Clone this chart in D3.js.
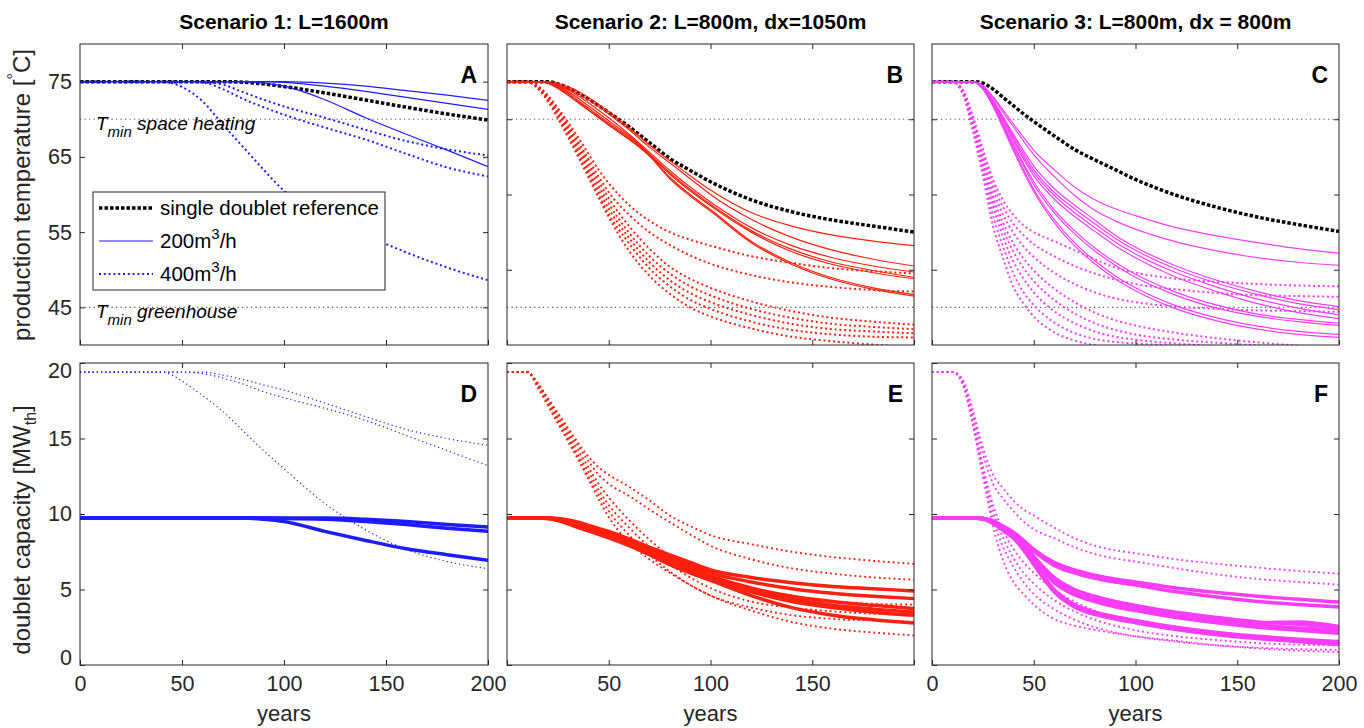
<!DOCTYPE html>
<html>
<head>
<meta charset="utf-8">
<script src="https://d3js.org/d3.v7.min.js"></script>
<style>
body { margin: 0; background: #fff; }
svg text { font-family: "Liberation Sans", Arial, sans-serif; fill: #262626; }
</style>
</head>
<body>
<svg id="chart" width="1364" height="728"></svg>
<script>
// sample years shared by every series
const years = [0,5,10,15,20,25,30,35,40,45,50,60,70,80,90,100,120,140,160,180,200];

// ---- Scenario 1 : production temperature
const refA = [75,75,75,75,75,75,75,75,75,75,75,75,75,74.92,74.7,74.35,73.5,72.55,71.6,70.7,69.9];
const tempA200 = [
  [75,75,75,75,75,75,75,75,75,75,75,75,75,75,75,75,74.8,74.4,73.8,73.2,72.5],
  [75,75,75,75,75,75,75,75,75,75,75,75,75,75,75,74.9,74.4,73.7,72.9,72.1,71.3],
  [75,75,75,75,75,75,75,75,75,75,75,75,75,75,74.8,74.4,72.6,70.2,68.0,65.9,63.7]
];
const tempA400 = [
  [75,75,75,75,75,75,75,75,75,74.8,74.3,72.4,69.3,66.3,63.3,60.5,57.0,54.6,52.3,50.3,48.6],
  [75,75,75,75,75,75,75,75,75,75,75,75,74.6,73.6,72.6,71.7,70.2,68.6,67.1,66.0,65.2],
  [75,75,75,75,75,75,75,75,75,75,75,74.9,74.0,72.7,71.6,70.6,68.9,67.3,65.4,63.6,62.4]
];
// ---- Scenario 1 : capacity
const capA200 = [
  [9.73,9.73,9.73,9.73,9.73,9.73,9.73,9.73,9.73,9.73,9.73,9.73,9.73,9.73,9.73,9.73,9.73,9.65,9.5,9.3,9.14],
  [9.73,9.73,9.73,9.73,9.73,9.73,9.73,9.73,9.73,9.73,9.73,9.73,9.73,9.73,9.73,9.7,9.65,9.5,9.3,9.05,8.85],
  [9.73,9.73,9.73,9.73,9.73,9.73,9.73,9.73,9.73,9.73,9.73,9.73,9.73,9.73,9.65,9.5,8.85,8.25,7.7,7.3,6.93]
];
const capA400 = [
  [19.4,19.4,19.4,19.4,19.4,19.4,19.4,19.4,19.4,19.2,18.8,17.85,16.8,15.5,14.2,13.0,10.7,8.95,7.65,6.85,6.38],
  [19.4,19.4,19.4,19.4,19.4,19.4,19.4,19.4,19.4,19.4,19.4,19.4,19.2,18.9,18.55,18.2,17.35,16.45,15.6,15.0,14.55],
  [19.4,19.4,19.4,19.4,19.4,19.4,19.4,19.4,19.4,19.4,19.4,19.3,19.0,18.6,18.1,17.7,17.0,16.2,15.2,14.2,13.2]
];

// ---- Scenario 2 : production temperature
const refB = [75,75,75,75,75,74.7,74.2,73.5,72.7,71.8,70.9,69.0,66.9,64.8,63.2,61.7,59.3,57.7,56.6,55.8,55.0];
const tempB200 = [
  [75,75,75,75,75,74.8,74.3,73.7,72.9,72.0,71.0,68.9,66.6,64.5,62.5,60.6,57.6,55.8,54.6,53.8,53.2],
  [75,75,75,75,74.9,74.6,74.1,73.4,72.6,71.7,70.7,68.6,66.3,64.2,62.1,60.0,56.7,54.3,52.6,51.4,50.5],
  [75,75,75,75,74.9,74.5,73.9,73.1,72.2,71.2,70.2,68.0,65.6,63.2,61.0,59.0,55.6,53.2,51.6,50.5,49.7],
  [75,75,75,75,74.9,74.4,73.7,72.8,71.8,70.8,69.8,67.8,65.4,62.9,60.7,58.7,55.2,52.7,51.0,49.9,49.0],
  [75,75,75,75,74.8,74.3,73.5,72.5,71.5,70.5,69.5,67.6,65.3,62.7,60.5,58.5,55.0,52.4,50.7,49.6,48.8],
  [75,75,75,75,74.8,74.2,73.3,72.3,71.3,70.3,69.3,67.4,65.2,62.3,60.0,58.0,53.8,50.9,48.9,47.6,46.7],
  [75,75,75,75,74.8,74.1,73.2,72.2,71.2,70.2,69.2,67.3,65.1,62.1,59.8,57.8,53.6,50.7,48.7,47.4,46.5]
];
const tempB400 = [
  [75,75,75,74.5,73.2,71.5,69.6,67.6,65.4,63.3,61.5,58.6,56.5,55.0,54.0,53.2,51.8,50.9,50.2,49.8,49.5],
  [75,75,75,74.4,73.0,71.2,69.2,67.0,64.7,62.4,60.3,57.3,55.0,53.3,51.9,50.8,49.3,48.3,47.7,47.3,47.1],
  [75,75,75,74.3,72.9,71.0,68.9,66.6,64.2,61.8,59.5,55.8,52.8,50.4,48.8,47.6,45.8,44.5,43.6,43.1,42.7],
  [75,75,75,74.3,72.8,70.8,68.6,66.2,63.7,61.2,58.8,54.9,51.8,49.5,47.8,46.6,44.8,43.6,42.8,42.4,42.1],
  [75,75,75,74.2,72.7,70.6,68.3,65.8,63.2,60.6,58.1,54.2,51.0,48.6,46.9,45.7,44.0,42.8,42.1,41.8,41.55],
  [75,75,75,74.2,72.6,70.4,68.0,65.4,62.7,60.0,57.4,53.5,50.2,47.8,46.0,44.8,43.1,42.0,41.4,41.1,41.0],
  [75,75,75,74.1,72.4,70.1,67.6,65.0,62.3,59.6,57.0,52.5,49.2,46.8,45.0,43.8,42.2,41.1,40.5,40.05,39.7]
];
// ---- Scenario 2 : capacity
const capB200 = [
  [9.73,9.73,9.73,9.73,9.73,9.7,9.6,9.45,9.25,9.05,8.85,8.35,7.8,7.3,6.8,6.3,5.8,5.45,5.2,5.05,4.9],
  [9.73,9.73,9.73,9.73,9.73,9.68,9.55,9.38,9.18,8.96,8.74,8.25,7.7,7.15,6.6,6.1,5.5,5.05,4.75,4.55,4.4],
  [9.73,9.73,9.73,9.73,9.72,9.65,9.5,9.3,9.1,8.88,8.65,8.15,7.6,7.0,6.4,5.9,5.1,4.55,4.2,3.95,3.73],
  [9.73,9.73,9.73,9.73,9.72,9.62,9.45,9.23,9.02,8.8,8.57,8.07,7.5,6.9,6.3,5.8,4.95,4.35,3.95,3.7,3.5],
  [9.73,9.73,9.73,9.73,9.71,9.6,9.4,9.17,8.95,8.72,8.5,8.0,7.45,6.85,6.25,5.75,4.85,4.2,3.8,3.5,3.3],
  [9.73,9.73,9.73,9.73,9.7,9.56,9.35,9.1,8.88,8.65,8.42,7.9,7.3,6.65,6.1,5.6,4.6,3.8,3.3,3.0,2.78]
];
const capB400 = [
  [19.4,19.4,19.4,18.7,17.7,16.7,15.7,14.7,13.8,13.1,12.6,11.8,10.9,9.9,9.2,8.6,8.0,7.5,7.15,6.9,6.7],
  [19.4,19.4,19.4,18.65,17.6,16.6,15.5,14.5,13.5,12.6,12.0,11.2,10.3,9.45,8.65,7.9,7.0,6.4,6.05,5.8,5.65],
  [19.4,19.4,19.4,18.6,17.5,16.4,15.3,14.2,13.1,12.0,11.1,9.6,8.3,7.2,6.3,5.6,4.8,4.4,4.2,4.05,4.0],
  [19.4,19.4,19.4,18.55,17.4,16.3,15.1,13.9,12.8,11.6,10.6,9.1,7.8,6.7,5.8,5.1,4.2,3.8,3.55,3.4,3.3],
  [19.4,19.4,19.4,18.5,17.3,16.1,14.9,13.7,12.5,11.3,10.2,8.6,7.3,6.2,5.3,4.6,3.8,3.3,3.05,2.95,2.85],
  [19.4,19.4,19.4,18.4,17.2,16.0,14.8,13.6,12.3,11.0,9.8,8.1,7.0,6.1,5.3,4.6,3.6,2.85,2.4,2.15,1.96]
];

// ---- Scenario 3 : production temperature
const refC = [75,75,75,75,75,74.8,74.0,72.9,71.8,70.7,69.7,67.8,66.0,64.6,63.3,62.0,59.9,58.3,57.0,56.0,55.1];
const tempC200 = [
  [75,75,75,75,75,74.5,73.0,71.2,69.4,67.6,65.9,63.3,61.0,59.3,58.1,57.2,55.6,54.5,53.6,52.8,52.2],
  [75,75,75,75,75,74.4,72.8,70.9,69.0,67.1,65.3,62.4,59.9,57.9,56.5,55.4,53.7,52.5,51.6,51.0,50.6],
  [75,75,75,75,75,74.3,72.5,70.3,68.0,65.8,63.8,60.8,58.6,56.6,54.6,53.0,50.5,48.6,47.1,45.9,45.1],
  [75,75,75,75,75,74.3,72.4,70.1,67.7,65.4,63.3,60.3,58.1,56.1,54.2,52.6,50.1,48.2,46.7,45.5,44.7],
  [75,75,75,75,75,74.2,72.3,69.9,67.4,65.0,62.9,59.9,57.6,55.6,53.7,52.1,49.6,47.7,46.1,44.9,44.0],
  [75,75,75,75,75,74.2,72.2,69.7,67.1,64.7,62.5,59.4,57.1,55.1,53.2,51.6,49.0,47.1,45.5,44.3,43.5],
  [75,75,75,75,75,74.1,72.0,69.4,66.7,64.1,61.7,58.0,55.2,52.9,51.0,49.4,47.0,45.3,44.1,43.4,42.9],
  [75,75,75,75,75,74.1,71.9,69.2,66.4,63.8,61.3,57.6,54.8,52.5,50.6,49.0,46.6,44.9,43.8,43.1,42.6],
  [75,75,75,75,75,74.0,71.8,69.0,66.1,63.3,60.7,56.7,53.6,51.2,49.2,47.6,45.2,43.6,42.5,41.8,41.4],
  [75,75,75,75,75,74.0,71.7,68.8,65.8,63.0,60.4,56.3,53.2,50.8,48.8,47.2,44.8,43.2,42.1,41.4,41.0]
];
const tempC400 = [
  [75,75,75,74.0,70.5,66.0,62.0,59.2,57.3,55.9,55.0,53.8,52.6,51.4,50.3,49.6,48.8,48.4,48.1,47.9,47.8],
  [75,75,75,73.9,70.2,65.5,61.3,58.3,56.1,54.6,53.4,51.8,50.5,49.5,48.7,48.1,47.4,46.9,46.6,46.5,46.4],
  [75,75,75,73.8,69.9,65.0,60.6,57.3,54.9,53.1,51.7,49.6,48.1,47.0,46.2,45.7,45.1,44.8,44.6,44.5,44.4],
  [75,75,75,73.7,69.6,64.5,59.8,56.2,53.5,51.5,49.9,47.5,45.7,44.3,43.3,42.6,41.6,40.9,40.35,39.9,39.5],
  [75,75,75,73.7,69.4,64.1,59.1,55.3,52.4,50.2,48.5,46.0,44.2,42.9,42.0,41.4,40.7,40.3,39.95,39.7,39.5],
  [75,75,75,73.6,69.2,63.7,58.4,54.3,51.1,48.8,47.0,44.5,42.9,41.8,41.1,40.7,40.2,39.85,39.6,39.4,39.2],
  [75,75,75,73.5,68.9,63.1,57.2,53.0,49.5,47.0,45.3,43.0,41.6,40.8,40.4,40.2,39.9,39.7,39.5,39.4,39.3],
  [75,75,75,73.5,68.5,62.5,55.8,51.5,47.7,45.5,43.8,41.7,40.6,39.97,39.6,39.4,39.2,39.1,39.0,39.0,39.0]
];
// ---- Scenario 3 : capacity
const capC200 = [
  [9.74,9.74,9.74,9.74,9.74,9.72,9.55,9.2,8.8,8.25,7.65,6.8,6.3,5.95,5.7,5.5,5.1,4.8,4.55,4.35,4.17],
  [9.74,9.74,9.74,9.74,9.74,9.71,9.52,9.15,8.75,8.2,7.55,6.6,6.1,5.75,5.5,5.3,4.85,4.5,4.2,4.0,3.84],
  [9.74,9.74,9.74,9.74,9.74,9.7,9.48,9.08,8.65,8.0,7.2,5.8,5.0,4.55,4.2,3.95,3.5,3.15,2.85,2.7,2.5],
  [9.74,9.74,9.74,9.74,9.74,9.7,9.47,9.06,8.62,7.98,7.15,5.7,4.9,4.45,4.1,3.85,3.4,3.05,2.8,2.85,2.55],
  [9.74,9.74,9.74,9.74,9.74,9.7,9.46,9.05,8.6,7.95,7.1,5.6,4.8,4.35,4.0,3.75,3.3,2.95,2.65,2.45,2.3],
  [9.74,9.74,9.74,9.74,9.74,9.69,9.44,9.02,8.55,7.88,7.0,5.45,4.65,4.2,3.85,3.6,3.15,2.8,2.5,2.3,2.1],
  [9.74,9.74,9.74,9.74,9.74,9.68,9.4,8.95,8.45,7.7,6.8,5.0,4.0,3.5,3.2,2.95,2.5,2.15,1.9,1.7,1.55],
  [9.74,9.74,9.74,9.74,9.74,9.67,9.38,8.9,8.4,7.6,6.65,4.85,3.85,3.35,3.05,2.8,2.35,2.0,1.75,1.55,1.35]
];
const capC400 = [
  [19.4,19.4,19.4,18.9,16.9,14.4,12.6,11.7,10.9,10.3,9.9,9.1,8.4,7.9,7.6,7.4,7.0,6.7,6.45,6.23,6.05],
  [19.4,19.4,19.4,18.9,16.7,14.0,12.0,11.0,10.2,9.5,9.0,8.4,7.8,7.35,7.05,6.85,6.4,6.0,5.7,5.5,5.32],
  [19.4,19.4,19.4,18.8,16.4,13.2,10.6,8.9,7.7,6.8,6.1,5.0,4.2,3.6,3.15,2.8,2.35,2.05,1.85,1.7,1.6],
  [19.4,19.4,19.4,18.8,16.2,12.9,10.2,8.4,7.1,6.1,5.4,4.3,3.55,3.0,2.6,2.3,1.9,1.65,1.45,1.35,1.3],
  [19.4,19.4,19.4,18.7,16.0,12.5,9.7,7.8,6.5,5.5,4.7,3.7,3.0,2.5,2.15,1.9,1.55,1.3,1.15,1.05,1.0],
  [19.4,19.4,19.4,18.6,15.9,12.7,9.2,6.9,5.5,4.7,4.0,3.05,2.6,2.33,2.1,1.9,1.6,1.3,1.1,0.95,0.86]
];

const titles = ["Scenario 1: L=1600m", "Scenario 2: L=800m, dx=1050m", "Scenario 3: L=800m, dx = 800m"];
const letters = [["A","B","C"],["D","E","F"]];
const colours = ["#1c1cff", "#ff200f", "#f83cf8"];
const tMinLevels = [70, 45];

const svg = d3.select("#chart");
const colX = [[80,488],[507,914],[932,1339]];
const rowY = [[44,345],[363,665]];
const ink = "#262626";

const panels = [
  {col:0,row:0, ref:refA, solid:tempA200, dotted:tempA400},
  {col:1,row:0, ref:refB, solid:tempB200, dotted:tempB400},
  {col:2,row:0, ref:refC, solid:tempC200, dotted:tempC400},
  {col:0,row:1, solid:capA200, dotted:capA400},
  {col:1,row:1, solid:capB200, dotted:capB400},
  {col:2,row:1, solid:capC200, dotted:capC400}
];

panels.forEach(p => {
  const [x0,x1] = colX[p.col], [y0,y1] = rowY[p.row];
  const x = d3.scaleLinear().domain([0,200]).range([x0,x1]);
  const y = d3.scaleLinear().domain(p.row ? [0,20] : [40,80]).range([y1,y0]);
  const id = "clip" + p.col + p.row;
  svg.append("clipPath").attr("id", id).append("rect")
    .attr("x", x0).attr("y", y0).attr("width", x1-x0).attr("height", y1-y0);
  const plot = svg.append("g").attr("clip-path", `url(#${id})`);
  const line = d3.line().x((d,i) => x(years[i])).y(d => y(d)).curve(d3.curveMonotoneX);
  const col = colours[p.col];

  if (p.row === 0) {
    plot.selectAll(".tmin").data(tMinLevels).join("line")
      .attr("x1", x0).attr("x2", x1).attr("y1", d => y(d)).attr("y2", d => y(d))
      .attr("stroke", "#555").attr("stroke-width", 1.2).attr("stroke-dasharray", "1.2 3.3");
  }
  if (p.ref) {
    plot.append("path").attr("d", line(p.ref)).attr("fill", "none")
      .attr("stroke", "#000").attr("stroke-width", 3.5).attr("stroke-dasharray", "3.5 2");
  }
  plot.selectAll(".dot").data(p.dotted).join("path")
    .attr("d", line).attr("fill", "none").attr("stroke", col)
    .attr("stroke-width", p.row ? (p.col ? 1.9 : 1.2) : 2)
    .attr("stroke-dasharray", p.row ? (p.col ? "1.9 3" : "1.2 3") : "2 2.8");
  plot.selectAll(".sol").data(p.solid).join("path")
    .attr("d", line).attr("fill", "none").attr("stroke", col)
    .attr("stroke-width", p.row ? 3.5 : 1.2);

  // axes, ticks pointing inward on all four sides
  const xt = [0,50,100,150,200];
  const yt = p.row ? [0,5,10,15,20] : (p.col ? [50,60,70] : [45,55,65,75]);
  const xfmt = d => {
    if (!p.row) return "";
    if (p.col === 1 && (d === 0 || d === 200)) return "";
    return d;
  };
  const style = g => {
    g.select(".domain").remove();
    g.selectAll(".tick line").attr("stroke", ink);
    g.selectAll("text").attr("font-size", 21.5).attr("font-family", "Liberation Sans, Arial, sans-serif").attr("fill", ink);
  };
  svg.append("g").attr("transform", `translate(0,${y1})`)
    .call(d3.axisBottom(x).tickValues(xt).tickFormat(xfmt).tickSizeInner(-5).tickSizeOuter(0).tickPadding(11))
    .call(style);
  svg.append("g").attr("transform", `translate(0,${y0})`)
    .call(d3.axisTop(x).tickValues([50,100,150]).tickFormat("").tickSizeInner(-5).tickSizeOuter(0))
    .call(style);
  const yl = svg.append("g").attr("transform", `translate(${x0},0)`)
    .call(d3.axisLeft(y).tickValues(yt).tickFormat(p.col ? "" : d => d).tickSizeInner(-5).tickSizeOuter(0).tickPadding(8))
    .call(style);
  if (p.row === 1) {
    yl.selectAll(".tick text").filter(d => d === 20).attr("y", 8);
    yl.selectAll(".tick text").filter(d => d === 0).attr("y", -7);
  }
  svg.append("g").attr("transform", `translate(${x1},0)`)
    .call(d3.axisRight(y).tickValues(yt.filter(v => v > y.domain()[0] && v < y.domain()[1])).tickFormat("").tickSizeInner(-5).tickSizeOuter(0))
    .call(style);

  svg.append("rect").attr("x", x0).attr("y", y0).attr("width", x1-x0).attr("height", y1-y0)
    .attr("fill", "none").attr("stroke", ink).attr("stroke-width", 1);

  svg.append("text").attr("x", x1 - 11).attr("y", y0 + 39).attr("text-anchor", "end")
    .attr("font-size", 23).attr("font-weight", "bold").style("fill", "#000")
    .text(letters[p.row][p.col]);

  if (p.row === 1) {
    svg.append("text").attr("x", (x0+x1)/2).attr("y", 721).attr("text-anchor", "middle")
      .attr("font-size", 22).text("years");
  } else {
    svg.append("text").attr("x", (x0+x1)/2).attr("y", 29).attr("text-anchor", "middle")
      .attr("font-size", 21).attr("font-weight", "bold").style("fill", "#000")
      .text(titles[p.col]);
  }

  if (p.col === 0 && p.row === 0) {
    // T_min labels
    const tLab = (val, word) => {
      const t = svg.append("text").attr("x", 96).attr("y", y(val) + 11)
        .attr("font-size", 19).attr("font-style", "italic").style("fill", "#000");
      t.append("tspan").text("T");
      t.append("tspan").attr("font-size", 15).attr("dy", 7).text("min");
      t.append("tspan").attr("dy", -7).text(" " + word);
    };
    tLab(70, "space heating");
    tLab(45, "greenhouse");

    // legend
    const lg = svg.append("g");
    lg.append("rect").attr("x", 93).attr("y", 192).attr("width", 292).attr("height", 98)
      .attr("fill", "#fff").attr("stroke", ink).attr("stroke-width", 1);
    const items = [
      {label:"single doublet reference", stroke:"#000", w:3.5, dash:"3.5 2", y:208},
      {label:"200", sup:true, stroke:col, w:1.2, dash:null, y:241},
      {label:"400", sup:true, stroke:col, w:2, dash:"2 2.8", y:274}
    ];
    items.forEach(it => {
      lg.append("line").attr("x1", 99).attr("x2", 153).attr("y1", it.y).attr("y2", it.y)
        .attr("stroke", it.stroke).attr("stroke-width", it.w).attr("stroke-dasharray", it.dash);
      const t = lg.append("text").attr("x", 160).attr("y", it.y + 7).attr("font-size", 20.5).style("fill", "#000");
      if (it.sup) {
        t.append("tspan").text(it.label + "m");
        t.append("tspan").attr("font-size", 15).attr("dy", -9).text("3");
        t.append("tspan").attr("dy", 9).text("/h");
      } else {
        t.text(it.label);
      }
    });
  }
});

// y-axis titles
const yt1 = svg.append("text").attr("transform", "translate(30,195) rotate(-90)")
  .attr("text-anchor", "middle").attr("font-size", 24);
yt1.append("tspan").text("production temperature [");
yt1.append("tspan").attr("font-size", 16).attr("dy", -11).text("°");
yt1.append("tspan").attr("dy", 11).text("C]");

const yt2 = svg.append("text").attr("transform", "translate(30,530) rotate(-90)")
  .attr("text-anchor", "middle").attr("font-size", 24);
yt2.append("tspan").text("doublet capacity [MW");
yt2.append("tspan").attr("font-size", 16).attr("dy", 6).text("th");
yt2.append("tspan").attr("dy", -6).text("]");
</script>
</body>
</html>
